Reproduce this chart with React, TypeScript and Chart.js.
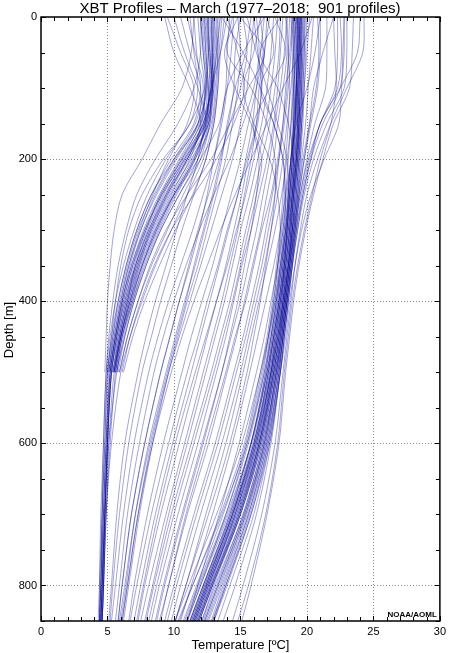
import React, { useEffect, useRef } from "react";
import { Chart, registerables } from "chart.js";

Chart.register(...registerables);

const TITLE = "XBT Profiles \u2013 March (1977\u20132018;  901 profiles)";
const X_TITLE = "Temperature [\u00BAC]";
const Y_TITLE = "Depth [m]";
const CREDIT = "NOAA/AOML";
const X_TICKS = [0, 5, 10, 15, 20, 25, 30];
const Y_TICKS = [0, 200, 400, 600, 800];

// depth levels (m) at which temperatures were read
const DEPTHS = [0, 50, 100, 150, 200, 250, 300, 350, 400, 450, 500, 600, 700, 800, 850];

// cool ("slope water") profiles, many truncated at 500 m
const COOL_PROFILES: number[][] = [
  [12.8, 12.9, 12.9, 12.6, 11.8, 10.4, 9.0, 7.9, 7.0, 6.3, 5.8],
  [12.5, 12.6, 12.7, 12.3, 10.9, 9.3, 8.1, 7.1, 6.4, 5.8, 5.4],
  [11.8, 12.0, 12.3, 12.0, 10.5, 9.0, 7.8, 6.9, 6.2, 5.6, 5.2],
  [13.0, 12.9, 12.8, 12.6, 11.3, 9.7, 8.4, 7.3, 6.5, 5.9, 5.5],
  [12.2, 12.4, 12.5, 11.8, 10.2, 8.7, 7.5, 6.6, 6.0, 5.5, 5.1, 4.9, 4.7, 4.6, 4.5],
  [12.9, 12.8, 13.0, 12.4, 11.0, 9.5, 8.3, 7.2, 6.4, 5.8, 5.3, 5.0, 4.8, 4.6, 4.5],
  [11.5, 11.7, 12.0, 11.5, 9.8, 8.3, 7.2, 6.4, 5.8, 5.3, 5.0],
  [12.6, 12.7, 12.9, 12.5, 11.6, 10.2, 8.9, 7.8, 6.9, 6.1, 5.6],
  [13.3, 13.1, 12.9, 12.0, 10.6, 9.1, 7.9, 7.0, 6.3, 5.7, 5.3, 5.0, 4.8, 4.7, 4.6],
  [10.5, 11.2, 12.0, 11.8, 10.4, 8.9, 7.7, 6.8, 6.1, 5.6, 5.2, 4.9, 4.7, 4.5, 4.4],
  [12.0, 12.2, 12.3, 11.2, 9.4, 8.0, 7.0, 6.2, 5.6, 5.2, 4.9, 4.7, 4.6, 4.5, 4.5],
  [9.5, 10.5, 11.5, 11.0, 9.6, 8.4, 7.4, 6.6, 6.0, 5.5, 5.1],
  [13.5, 13.2, 13.0, 12.7, 11.8, 10.0, 8.6, 7.5, 6.7, 6.0, 5.5],
  [12.3, 12.5, 12.4, 12.1, 11.2, 9.8, 8.5, 7.4, 6.6, 6.0, 5.5],
  [14.0, 13.5, 12.8, 12.2, 10.7, 9.2, 8.0, 7.1, 6.5, 5.9, 5.4],
  [11.0, 11.6, 12.2, 11.6, 10.0, 8.5, 7.3, 6.5, 5.9, 5.4, 5.0, 4.8, 4.6, 4.4, 4.3],
  [12.7, 12.8, 12.6, 12.4, 10.8, 9.4, 8.2, 7.3, 6.6, 6.0, 5.6, 5.2, 4.9, 4.7, 4.6],
  [11.5, 11.3, 10.6, 9.0, 7.6, 6.1, 5.5, 5.2, 5.0, 4.9, 4.8],
  [12.0, 12.0, 11.5, 10.3, 8.6, 7.2, 6.4, 5.8, 5.4, 5.1, 4.9, 4.7, 4.5, 4.4, 4.4],
  [12.4, 12.6, 12.8, 12.2, 10.6, 9.0, 7.9, 6.9, 6.2, 5.7, 5.3, 5.0, 4.8, 4.6, 4.5],
  [13.1, 13.0, 12.7, 12.5, 11.4, 9.9, 8.6, 7.6, 6.8, 6.1, 5.7],
  [12.1, 12.3, 12.5, 12.2, 10.8, 9.1, 7.8, 6.8, 6.1, 5.6, 5.2, 4.9, 4.7, 4.5, 4.4],
  [12.8, 12.9, 12.8, 12.6, 11.1, 9.6, 8.3, 7.4, 6.7, 6.0, 5.5],
  [13.2, 13.3, 13.2, 12.9, 12.2, 11.0, 9.8, 8.6, 7.6, 6.7, 6.1],
  [12.5, 12.7, 12.9, 12.7, 12.0, 10.7, 9.5, 8.3, 7.3, 6.5, 5.9],
  [13.6, 13.4, 13.3, 13.0, 12.4, 11.4, 10.1, 8.9, 7.8, 6.9, 6.2],
  [12.0, 12.2, 12.4, 11.9, 10.1, 8.6, 7.5, 6.7, 6.1, 5.6, 5.2, 5.0, 4.8, 4.6, 4.5],
  [12.9, 13.0, 12.9, 12.3, 11.0, 9.4, 8.1, 7.1, 6.3, 5.7, 5.3, 5.0, 4.8, 4.7, 4.6],
  [11.2, 11.5, 11.8, 11.2, 9.2, 7.6, 6.6, 6.0, 5.6, 5.3, 5.0, 4.8, 4.6, 4.5, 4.4],
  [12.6, 12.6, 12.4, 11.8, 10.0, 8.3, 7.2, 6.4, 5.8, 5.4, 5.1],
  [13.4, 13.3, 13.1, 12.8, 11.6, 10.1, 8.8, 7.7, 6.9, 6.2, 5.7],
  [12.3, 12.4, 12.6, 12.4, 11.5, 10.0, 8.7, 7.6, 6.7, 6.0, 5.5, 5.1, 4.9, 4.7, 4.6],
];

// warm ("Gulf Stream / Sargasso") profiles
const WARM_PROFILES: number[][] = [
  [19.4, 19.4, 19.3, 19.3, 19.1, 18.9, 18.7, 18.4, 18.1, 17.8, 17.4, 16.3, 14.7, 12.6, 11.6],
  [19.7, 19.6, 19.6, 19.5, 19.3, 19.1, 18.9, 18.6, 18.3, 18.0, 17.6, 16.6, 15.0, 12.9, 11.9],
  [19.1, 19.1, 19.0, 19.0, 18.9, 18.7, 18.5, 18.2, 17.9, 17.5, 17.1, 16.0, 14.3, 12.2, 11.2],
  [19.5, 19.5, 19.4, 19.4, 19.2, 19.0, 18.8, 18.5, 18.2, 17.9, 17.5, 16.4, 14.8, 12.8, 11.8],
  [19.9, 19.8, 19.7, 19.6, 19.4, 19.2, 19.0, 18.7, 18.4, 18.1, 17.7, 16.8, 15.3, 13.3, 12.3],
  [19.2, 19.2, 19.2, 19.1, 19.0, 18.8, 18.5, 18.3, 18.0, 17.6, 17.2, 16.1, 14.4, 12.4, 11.4],
  [18.8, 18.9, 18.9, 18.8, 18.6, 18.4, 18.2, 17.9, 17.6, 17.2, 16.8, 15.6, 13.9, 11.8, 10.8],
  [19.6, 19.5, 19.5, 19.4, 19.3, 19.1, 18.9, 18.6, 18.3, 18.0, 17.6, 16.5, 15.0, 13.0, 12.1],
  [20.2, 20.0, 19.8, 19.7, 19.5, 19.3, 19.1, 18.8, 18.5, 18.2, 17.9, 17.0, 15.6, 13.7, 12.8],
  [19.3, 19.3, 19.2, 19.2, 19.0, 18.8, 18.6, 18.3, 18.0, 17.6, 17.3, 16.2, 14.5, 12.5, 11.5],
  [18.5, 18.6, 18.7, 18.6, 18.4, 18.2, 18.0, 17.7, 17.4, 17.0, 16.5, 15.3, 13.5, 11.4, 10.4],
  [19.8, 19.8, 19.7, 19.6, 19.5, 19.3, 19.1, 18.9, 18.6, 18.3, 18.0, 17.2, 16.0, 14.2, 13.3],
  [19.0, 19.0, 19.1, 19.0, 18.8, 18.6, 18.4, 18.1, 17.8, 17.4, 17.0, 15.8, 14.1, 12.0, 11.0],
  [20.5, 20.3, 20.1, 19.9, 19.6, 19.4, 19.2, 18.9, 18.6, 18.3, 18.0, 17.3, 16.2, 14.6, 13.7],
  [19.4, 19.5, 19.4, 19.3, 19.2, 19.0, 18.7, 18.4, 18.2, 17.8, 17.4, 16.4, 14.9, 12.9, 11.9],
  [19.6, 19.6, 19.5, 19.4, 19.2, 18.9, 18.7, 18.4, 18.0, 17.7, 17.3, 16.2, 14.6, 12.5, 11.5],
  [19.3, 19.4, 19.3, 19.2, 19.1, 18.9, 18.6, 18.3, 18.1, 17.7, 17.3, 16.3, 14.6, 12.7, 11.7],
  [19.5, 19.4, 19.4, 19.3, 19.1, 18.9, 18.6, 18.3, 17.9, 17.5, 17.0, 15.8, 14.0, 11.9, 10.9],
  [19.2, 19.3, 19.2, 19.1, 18.9, 18.7, 18.4, 18.1, 17.7, 17.3, 16.8, 15.5, 13.6, 11.4, 10.3],
  [19.7, 19.7, 19.6, 19.5, 19.3, 19.1, 18.9, 18.7, 18.4, 18.1, 17.8, 16.9, 15.4, 13.4, 12.4],
  [19.4, 19.4, 19.3, 19.3, 19.2, 19.0, 18.8, 18.6, 18.3, 18.0, 17.7, 16.7, 15.2, 13.1, 12.1],
  [19.0, 19.1, 19.1, 19.0, 18.9, 18.7, 18.4, 18.0, 17.6, 17.1, 16.5, 15.1, 13.2, 11.1, 10.1],
  [19.8, 19.7, 19.6, 19.5, 19.4, 19.2, 19.0, 18.8, 18.5, 18.2, 17.9, 17.1, 15.8, 13.9, 12.9],
  [19.3, 19.3, 19.2, 19.1, 19.0, 18.8, 18.5, 18.2, 17.9, 17.5, 17.1, 16.0, 14.4, 12.3, 11.3],
  [19.6, 19.6, 19.5, 19.4, 19.3, 19.0, 18.8, 18.5, 18.2, 17.9, 17.5, 16.5, 14.9, 12.8, 11.8],
  [19.1, 19.2, 19.2, 19.1, 18.9, 18.7, 18.5, 18.2, 17.9, 17.5, 17.1, 16.1, 14.5, 12.5, 11.5],
  [19.5, 19.5, 19.4, 19.4, 19.2, 19.0, 18.8, 18.5, 18.2, 17.8, 17.4, 16.4, 14.8, 12.7, 11.7],
  [20.0, 19.9, 19.8, 19.6, 19.4, 19.2, 18.9, 18.6, 18.3, 17.9, 17.5, 16.4, 14.7, 12.6, 11.6],
  [18.9, 19.0, 19.0, 18.9, 18.8, 18.6, 18.3, 18.0, 17.7, 17.3, 16.9, 15.8, 14.2, 12.2, 11.2],
  [23.0, 23.0, 22.8, 21.5, 20.5, 19.8, 19.3, 18.9, 18.6, 18.3, 18.0, 17.2, 15.8, 14.0, 13.0],
  [22.5, 22.6, 22.3, 21.0, 20.2, 19.6, 19.2, 18.8, 18.5, 18.2, 17.8, 16.9, 15.5, 13.6, 12.6],
  [24.3, 24.2, 23.0, 21.8, 20.8, 20.0, 19.5, 19.1, 18.8, 18.5, 18.2, 17.6, 16.6, 15.2, 14.4],
  [21.5, 21.5, 21.4, 20.6, 20.0, 19.5, 19.1, 18.7, 18.4, 18.1, 17.7, 16.8, 15.4, 13.5, 12.5],
  [24.0, 23.8, 22.5, 21.0, 20.3, 19.7, 19.3, 18.9, 18.5, 18.2, 17.9, 17.0, 15.6, 13.8, 12.9],
  [22.0, 22.1, 22.2, 21.8, 21.0, 20.4, 19.8, 19.3, 18.9, 18.6, 18.3, 17.8, 16.9, 15.6, 14.8],
  [23.5, 23.4, 23.2, 22.0, 21.2, 20.5, 19.9, 19.4, 19.0, 18.7, 18.4, 17.9, 17.0, 15.8, 15.1],
  [22.8, 22.8, 22.6, 22.4, 21.3, 20.3, 19.6, 19.1, 18.7, 18.4, 18.0, 17.1, 15.7, 13.9, 13.0],
  [22.3, 22.3, 22.1, 21.0, 20.1, 19.5, 19.1, 18.7, 18.4, 18.1, 17.7, 16.7, 15.2, 13.2, 12.2],
  [22.8, 22.7, 22.5, 21.2, 20.3, 19.7, 19.2, 18.8, 18.5, 18.2, 17.8, 16.8, 15.3, 13.3, 12.3],
  [21.0, 21.0, 20.8, 20.3, 19.8, 19.4, 19.0, 18.7, 18.4, 18.0, 17.6, 16.6, 15.0, 12.9, 11.9],
  [20.8, 20.9, 20.7, 20.2, 19.7, 19.3, 18.9, 18.6, 18.3, 17.9, 17.5, 16.5, 14.9, 12.8, 11.8],
];

// profiles spanning the front between the two water masses
const MIXED_PROFILES: number[][] = [
  [14.5, 14.3, 14.0, 13.6, 13.0, 12.2, 11.4, 10.5, 9.6, 8.8, 8.1, 7.0, 6.2, 5.6, 5.3],
  [16.0, 15.8, 15.5, 15.0, 14.4, 13.6, 12.8, 12.0, 11.2, 10.4, 9.6, 8.3, 7.3, 6.5, 6.1],
  [17.5, 17.3, 17.0, 16.6, 16.0, 15.4, 14.7, 14.0, 13.2, 12.4, 11.6, 10.1, 8.8, 7.7, 7.2],
  [18.5, 18.3, 18.0, 17.6, 17.2, 16.7, 16.2, 15.6, 15.0, 14.3, 13.6, 12.1, 10.6, 9.2, 8.6],
  [15.2, 15.5, 15.0, 14.2, 13.4, 12.6, 11.8, 11.1, 10.4, 9.7, 9.0, 7.8, 6.8, 6.1, 5.8],
  [13.8, 13.5, 13.3, 13.0, 12.4, 11.5, 10.6, 9.8, 9.0, 8.3, 7.6, 6.6, 5.9, 5.4, 5.2],
  [19.0, 18.8, 18.6, 18.3, 17.9, 17.4, 16.9, 16.4, 15.8, 15.2, 14.5, 13.1, 11.5, 10.0, 9.3],
  [16.8, 16.5, 16.2, 15.9, 15.4, 14.8, 14.0, 13.3, 12.5, 11.8, 11.0, 9.6, 8.3, 7.2, 6.7],
  [18.0, 17.9, 17.6, 17.2, 16.6, 16.0, 15.4, 14.8, 14.2, 13.5, 12.8, 11.3, 9.8, 8.5, 7.9],
  [19.3, 19.2, 19.0, 18.8, 18.5, 18.1, 17.6, 17.0, 16.4, 15.8, 15.2, 13.9, 12.4, 10.9, 10.1],
  [15.0, 14.6, 14.5, 14.1, 13.5, 12.9, 12.2, 11.5, 10.9, 10.2, 9.5, 8.2, 7.1, 6.3, 5.9],
  [17.0, 16.8, 16.4, 16.2, 15.8, 15.3, 14.8, 14.2, 13.6, 12.9, 12.2, 10.8, 9.4, 8.1, 7.5],
  [18.9, 18.7, 18.4, 18.2, 17.8, 17.3, 16.6, 16.0, 15.4, 14.6, 13.9, 12.4, 10.9, 9.6, 9.0],
  [19.5, 19.4, 19.3, 19.1, 18.8, 18.4, 18.0, 17.5, 16.9, 16.3, 15.7, 14.4, 12.9, 11.3, 10.5],
  [16.2, 16.4, 16.0, 15.2, 14.2, 13.0, 11.9, 10.9, 10.0, 9.2, 8.5, 7.4, 6.5, 5.9, 5.6],
  [18.2, 18.0, 17.8, 17.5, 17.0, 16.4, 15.8, 15.1, 14.5, 13.9, 13.2, 11.8, 10.3, 8.9, 8.3],
  [13.0, 13.2, 12.8, 12.3, 11.8, 11.0, 10.2, 9.4, 8.6, 7.9, 7.3, 6.3, 5.7, 5.3, 5.1],
  [15.8, 15.4, 14.6, 14.0, 13.6, 13.0, 12.3, 11.6, 10.8, 10.1, 9.4, 8.1, 7.1, 6.4, 6.0],
  [17.2, 16.8, 16.6, 16.3, 15.6, 15.1, 14.5, 13.9, 13.2, 12.5, 11.8, 10.4, 9.0, 7.8, 7.3],
  [18.4, 18.5, 18.2, 17.8, 17.5, 17.0, 16.5, 15.9, 15.3, 14.7, 14.0, 12.6, 11.0, 9.6, 8.9],
  [14.2, 14.0, 13.9, 13.5, 13.0, 12.5, 11.9, 11.2, 10.4, 9.7, 9.0, 7.8, 6.8, 6.1, 5.8],
  [16.5, 16.7, 16.2, 15.6, 15.0, 14.3, 13.6, 12.9, 12.1, 11.3, 10.6, 9.2, 8.0, 7.0, 6.6],
  [19.2, 19.0, 18.8, 18.5, 18.2, 17.8, 17.3, 16.8, 16.2, 15.6, 15.0, 13.6, 12.0, 10.5, 9.8],
  [17.8, 17.6, 17.3, 16.9, 16.3, 15.7, 15.0, 14.4, 13.8, 13.1, 12.4, 11.0, 9.6, 8.4, 7.8],
  [14.8, 15.0, 14.8, 14.4, 13.9, 13.2, 12.5, 11.8, 11.0, 10.3, 9.6, 8.4, 7.4, 6.6, 6.2],
  [18.7, 18.6, 18.5, 18.2, 17.9, 17.6, 17.1, 16.6, 16.0, 15.4, 14.7, 13.3, 11.7, 10.2, 9.5],
  [19.4, 19.3, 19.2, 19.0, 18.8, 18.5, 18.2, 17.8, 17.3, 16.8, 16.2, 14.9, 13.4, 11.8, 11.0],
  [16.0, 16.3, 16.6, 16.2, 15.5, 14.8, 14.1, 13.4, 12.7, 12.0, 11.3, 9.9, 8.6, 7.5, 7.0],
];

// wiggly upper-ocean profiles
const UPPER_PROFILES: number[][] = [
  [15.5, 16.2, 17.0, 17.8, 18.5, 18.6, 18.5, 18.3, 18.0, 17.6, 17.2, 16.0, 14.4, 12.4, 11.4],
  [14.0, 14.8, 15.3, 14.5, 13.2, 11.5, 9.8, 8.5, 7.5, 6.7, 6.0, 5.3, 4.9, 4.7, 4.6],
  [16.5, 16.0, 15.2, 16.0, 17.2, 17.8, 18.0, 17.8, 17.5, 17.1, 16.7, 15.5, 13.9, 12.0, 11.0],
  [10.0, 10.8, 11.8, 12.4, 11.5, 10.0, 8.7, 7.6, 6.8, 6.1, 5.6],
  [9.3, 10.0, 11.2, 12.0, 11.0, 9.5, 8.2, 7.2, 6.5, 5.9, 5.4],
  [17.0, 17.5, 16.5, 17.5, 18.2, 18.4, 18.3, 18.0, 17.7, 17.3, 16.9, 15.8, 14.2, 12.2, 11.2],
  [14.8, 13.8, 14.6, 15.8, 16.6, 16.2, 15.6, 15.0, 14.4, 13.7, 13.0, 11.5, 10.0, 8.7, 8.1],
  [21.0, 20.6, 20.0, 19.2, 18.8, 18.6, 18.4, 18.1, 17.8, 17.4, 17.0, 15.9, 14.3, 12.3, 11.3],
  [18.0, 16.5, 17.8, 18.6, 19.0, 18.9, 18.7, 18.4, 18.1, 17.7, 17.3, 16.2, 14.6, 12.6, 11.6],
  [15.0, 16.8, 15.6, 14.2, 12.8, 11.0, 9.4, 8.2, 7.3, 6.5, 5.9],
  [13.6, 15.2, 16.5, 17.5, 18.2, 18.3, 18.1, 17.8, 17.5, 17.1, 16.6, 15.4, 13.7, 11.7, 10.7],
  [20.4, 19.5, 18.2, 17.0, 15.8, 14.6, 13.5, 12.5, 11.5, 10.6, 9.8, 8.4, 7.3, 6.5, 6.1],
  [16.8, 15.2, 14.0, 13.4, 12.0, 10.4, 9.0, 7.9, 7.0, 6.3, 5.7, 5.1, 4.8, 4.6, 4.5],
  [14.4, 14.0, 15.8, 17.0, 17.6, 17.6, 17.3, 16.9, 16.5, 16.0, 15.5, 14.2, 12.6, 10.9, 10.1],
  [22.0, 21.2, 20.5, 20.2, 19.8, 19.4, 19.0, 18.6, 18.2, 17.8, 17.3, 16.1, 14.4, 12.4, 11.4],
  [17.6, 18.4, 17.2, 16.0, 16.4, 16.2, 15.8, 15.3, 14.8, 14.2, 13.6, 12.2, 10.7, 9.3, 8.7],
];

const LINE_COLOR = "rgba(0, 0, 150, 0.36)";

const FONT = "'Liberation Sans', Arial, Helvetica, sans-serif";

function toPoints(profile: number[]) {
  return profile.map((t, i) => ({ x: t, y: DEPTHS[i] }));
}

const decorPlugin = {
  id: "decor",
  beforeDatasetsDraw(chart: any) {
    const { ctx, chartArea: a, scales } = chart;
    const xs = scales.x;
    const ys = scales.y;
    ctx.save();
    ctx.strokeStyle = "#8a8a8a";
    ctx.lineWidth = 1;
    ctx.setLineDash([1, 2]);
    X_TICKS.forEach((v) => {
      if (v === X_TICKS[0] || v === X_TICKS[X_TICKS.length - 1]) return;
      const px = Math.round(xs.getPixelForValue(v)) + 0.5;
      ctx.beginPath();
      ctx.moveTo(px, a.top);
      ctx.lineTo(px, a.bottom);
      ctx.stroke();
    });
    Y_TICKS.forEach((v) => {
      if (v === 0) return;
      const py = Math.round(ys.getPixelForValue(v)) + 0.5;
      ctx.beginPath();
      ctx.moveTo(a.left, py);
      ctx.lineTo(a.right, py);
      ctx.stroke();
    });
    ctx.restore();
  },
  afterDatasetsDraw(chart: any) {
    const { ctx, chartArea: a, scales } = chart;
    const xs = scales.x;
    const ys = scales.y;
    ctx.save();
    ctx.setLineDash([]);
    ctx.strokeStyle = "#000";
    ctx.lineWidth = 1;
    for (let t = 0; t <= 30; t += 1) {
      const px = Math.round(xs.getPixelForValue(t)) + 0.5;
      const len = t % 5 === 0 ? 5 : 4;
      ctx.beginPath();
      ctx.moveTo(px, a.bottom);
      ctx.lineTo(px, a.bottom - len);
      ctx.moveTo(px, a.top);
      ctx.lineTo(px, a.top + len);
      ctx.stroke();
    }
    for (let d = 0; d <= 850; d += 50) {
      const py = Math.round(ys.getPixelForValue(d)) + 0.5;
      const len = d % 200 === 0 ? 5 : 4;
      ctx.beginPath();
      ctx.moveTo(a.left, py);
      ctx.lineTo(a.left + len, py);
      ctx.moveTo(a.right, py);
      ctx.lineTo(a.right - len, py);
      ctx.stroke();
    }
    ctx.lineWidth = 1.5;
    ctx.strokeRect(a.left, a.top, a.right - a.left, a.bottom - a.top);

    ctx.fillStyle = "#000";
    ctx.font = `15px ${FONT}`;
    ctx.textAlign = "center";
    ctx.textBaseline = "alphabetic";
    ctx.fillText(TITLE, 240, 13);

    ctx.font = `13px ${FONT}`;
    ctx.textBaseline = "middle";
    ctx.fillText(X_TITLE, (a.left + a.right) / 2, 645);

    ctx.save();
    ctx.translate(9, 330);
    ctx.rotate(-Math.PI / 2);
    ctx.fillText(Y_TITLE, 0, 0);
    ctx.restore();

    ctx.font = `bold 8px ${FONT}`;
    ctx.textAlign = "right";
    ctx.textBaseline = "alphabetic";
    ctx.fillText(CREDIT, a.right - 3, a.bottom - 4);
    ctx.restore();
  },
};

export default function App() {
  const ref = useRef<HTMLCanvasElement | null>(null);

  useEffect(() => {
    if (!ref.current) return;
    const all = [...COOL_PROFILES, ...UPPER_PROFILES, ...MIXED_PROFILES, ...WARM_PROFILES];
    const datasets = all.map((p) => ({
      data: toPoints(p),
      showLine: true,
      borderColor: LINE_COLOR,
      borderWidth: 1,
      pointRadius: 0,
      tension: 0.3,
      fill: false,
    }));
    const chart = new Chart(ref.current, {
      type: "scatter",
      data: { datasets },
      options: {
        animation: false,
        responsive: false,
        events: [],
        layout: { padding: { left: 0, top: 17, right: 7, bottom: 0 } },
        plugins: {
          legend: { display: false },
          tooltip: { enabled: false },
          title: { display: false },
        },
        scales: {
          x: {
            type: "linear",
            position: "bottom",
            min: 0,
            max: 30,
            grid: { display: false, drawTicks: false },
            border: { display: false },
            afterBuildTicks: (s: any) => {
              s.ticks = X_TICKS.map((v) => ({ value: v }));
            },
            afterFit: (s: any) => {
              s.height = 32;
            },
            ticks: {
              color: "#000",
              padding: 4,
              maxRotation: 0,
              font: { family: FONT, size: 11 },
              callback: (v: any) => String(v),
            },
          },
          y: {
            type: "linear",
            position: "left",
            reverse: true,
            min: 0,
            max: 850,
            grid: { display: false, drawTicks: false },
            border: { display: false },
            afterBuildTicks: (s: any) => {
              s.ticks = Y_TICKS.map((v) => ({ value: v }));
            },
            afterFit: (s: any) => {
              s.width = 41;
            },
            ticks: {
              color: "#000",
              padding: 4,
              font: { family: FONT, size: 11 },
              callback: (v: any) => String(v),
            },
          },
        },
      },
      plugins: [decorPlugin],
    });
    return () => chart.destroy();
  }, []);

  return (
    <div style={{ position: "absolute", left: 0, top: 0, width: 450, height: 653, background: "#fff" }}>
      <canvas ref={ref} width={450} height={653} style={{ display: "block", width: 450, height: 653 }} />
    </div>
  );
}
